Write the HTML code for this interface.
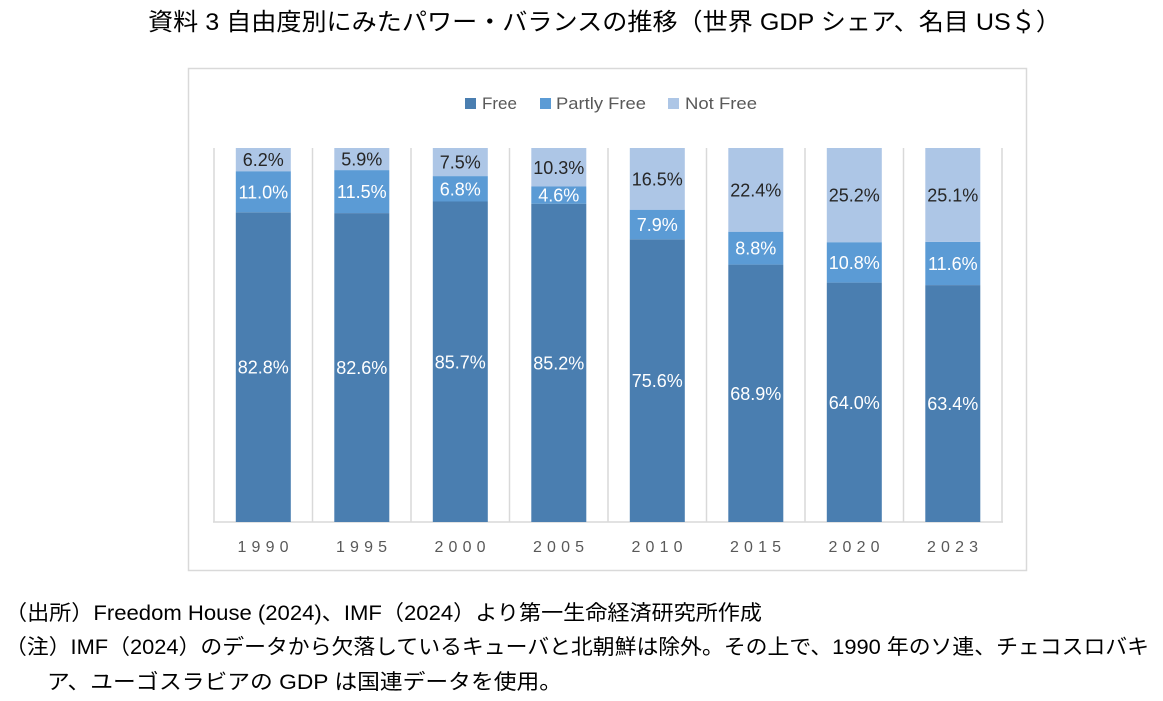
<!DOCTYPE html>
<html>
<head>
<meta charset="utf-8">
<style>
html,body{margin:0;padding:0;background:#fff;}
svg{display:block;}
.jp{font-family:"Liberation Sans","Noto Sans CJK JP",sans-serif;fill:#000;}
.lg{font-family:"Liberation Sans",sans-serif;font-size:17px;fill:#595959;}
.yr{font-family:"Liberation Sans",sans-serif;font-size:16px;fill:#595959;}
.lb{font-family:"Liberation Sans",sans-serif;font-size:18px;text-anchor:middle;}
.w{fill:#ffffff;}
.d{fill:#262626;}
</style>
</head>
<body>
<svg width="1163" height="701" viewBox="0 0 1163 701" xmlns="http://www.w3.org/2000/svg">
<rect x="0" y="0" width="1163" height="701" fill="#fff"/>
<!-- Title -->
<text class="jp" x="148" y="30" font-size="24" textLength="913" lengthAdjust="spacingAndGlyphs">資料 3  自由度別にみたパワー・バランスの推移（世界 GDP シェア、名目 US＄）</text>

<!-- Chart frame -->
<rect x="188.5" y="68.5" width="838" height="502" fill="#fff" stroke="#d9d9d9" stroke-width="1.5"/>

<!-- Legend -->
<rect x="465" y="98" width="11" height="11" fill="#4a7eb0"/>
<text class="lg" x="482" y="109" textLength="35" lengthAdjust="spacingAndGlyphs">Free</text>
<rect x="540" y="98" width="11" height="11" fill="#5b9bd5"/>
<text class="lg" x="556" y="109" textLength="90" lengthAdjust="spacingAndGlyphs">Partly Free</text>
<rect x="668" y="98" width="11" height="11" fill="#adc6e6"/>
<text class="lg" x="685" y="109" textLength="72" lengthAdjust="spacingAndGlyphs">Not Free</text>

<!-- Gridlines -->
<g stroke="#d9d9d9" stroke-width="1.5">
<line x1="214" y1="148" x2="214" y2="522"/>
<line x1="312.5" y1="148" x2="312.5" y2="522"/>
<line x1="411" y1="148" x2="411" y2="522"/>
<line x1="509.5" y1="148" x2="509.5" y2="522"/>
<line x1="608" y1="148" x2="608" y2="522"/>
<line x1="706.5" y1="148" x2="706.5" y2="522"/>
<line x1="805" y1="148" x2="805" y2="522"/>
<line x1="903.5" y1="148" x2="903.5" y2="522"/>
<line x1="1002" y1="148" x2="1002" y2="522"/>
<line x1="213" y1="522" x2="1003" y2="522"/>
</g>

<!-- Bars: plot top 148, bottom 522 (374px) -->
<!-- 1990: 82.8 / 11.0 / 6.2 -->
<g>
<rect x="235.8" y="212.3" width="55" height="309.7" fill="#4a7eb0"/>
<rect x="235.8" y="171.2" width="55" height="41.1" fill="#5b9bd5"/>
<rect x="235.8" y="148" width="55" height="23.2" fill="#adc6e6"/>
<text class="lb w" x="263.3" y="373.6">82.8%</text>
<text class="lb w" x="263.3" y="198.3">11.0%</text>
<text class="lb d" x="263.3" y="166.1">6.2%</text>
</g>
<!-- 1995: 82.6 / 11.5 / 5.9 -->
<g>
<rect x="334.3" y="213.1" width="55" height="308.9" fill="#4a7eb0"/>
<rect x="334.3" y="170.1" width="55" height="43" fill="#5b9bd5"/>
<rect x="334.3" y="148" width="55" height="22.1" fill="#adc6e6"/>
<text class="lb w" x="361.8" y="374.1">82.6%</text>
<text class="lb w" x="361.8" y="198.1">11.5%</text>
<text class="lb d" x="361.8" y="165.6">5.9%</text>
</g>
<!-- 2000: 85.7 / 6.8 / 7.5 -->
<g>
<rect x="432.8" y="201.5" width="55" height="320.5" fill="#4a7eb0"/>
<rect x="432.8" y="176.1" width="55" height="25.4" fill="#5b9bd5"/>
<rect x="432.8" y="148" width="55" height="28.1" fill="#adc6e6"/>
<text class="lb w" x="460.3" y="368.3">85.7%</text>
<text class="lb w" x="460.3" y="195.3">6.8%</text>
<text class="lb d" x="460.3" y="168.6">7.5%</text>
</g>
<!-- 2005: 85.2 / 4.6 / 10.3 (sum 100.1) -->
<g>
<rect x="531.3" y="203.7" width="55" height="318.3" fill="#4a7eb0"/>
<rect x="531.3" y="186.5" width="55" height="17.2" fill="#5b9bd5"/>
<rect x="531.3" y="148" width="55" height="38.5" fill="#adc6e6"/>
<text class="lb w" x="558.8" y="369.4">85.2%</text>
<text class="lb w" x="558.8" y="201.6">4.6%</text>
<text class="lb d" x="558.8" y="173.8">10.3%</text>
</g>
<!-- 2010: 75.6 / 7.9 / 16.5 -->
<g>
<rect x="629.8" y="239.3" width="55" height="282.7" fill="#4a7eb0"/>
<rect x="629.8" y="209.7" width="55" height="29.6" fill="#5b9bd5"/>
<rect x="629.8" y="148" width="55" height="61.7" fill="#adc6e6"/>
<text class="lb w" x="657.3" y="387.2">75.6%</text>
<text class="lb w" x="657.3" y="231">7.9%</text>
<text class="lb d" x="657.3" y="185.4">16.5%</text>
</g>
<!-- 2015: 68.9 / 8.8 / 22.4 (sum 100.1) -->
<g>
<rect x="728.3" y="264.6" width="55" height="257.4" fill="#4a7eb0"/>
<rect x="728.3" y="231.7" width="55" height="32.9" fill="#5b9bd5"/>
<rect x="728.3" y="148" width="55" height="83.7" fill="#adc6e6"/>
<text class="lb w" x="755.8" y="399.8">68.9%</text>
<text class="lb w" x="755.8" y="254.7">8.8%</text>
<text class="lb d" x="755.8" y="196.4">22.4%</text>
</g>
<!-- 2020: 64.0 / 10.8 / 25.2 -->
<g>
<rect x="826.8" y="282.6" width="55" height="239.4" fill="#4a7eb0"/>
<rect x="826.8" y="242.2" width="55" height="40.4" fill="#5b9bd5"/>
<rect x="826.8" y="148" width="55" height="94.2" fill="#adc6e6"/>
<text class="lb w" x="854.3" y="408.8">64.0%</text>
<text class="lb w" x="854.3" y="268.9">10.8%</text>
<text class="lb d" x="854.3" y="201.6">25.2%</text>
</g>
<!-- 2023: 63.4 / 11.6 / 25.1 (sum 100.1) -->
<g>
<rect x="925.3" y="285.1" width="55" height="236.9" fill="#4a7eb0"/>
<rect x="925.3" y="241.8" width="55" height="43.3" fill="#5b9bd5"/>
<rect x="925.3" y="148" width="55" height="93.8" fill="#adc6e6"/>
<text class="lb w" x="952.8" y="410.1">63.4%</text>
<text class="lb w" x="952.8" y="270">11.6%</text>
<text class="lb d" x="952.8" y="201.4">25.1%</text>
</g>

<!-- Year labels -->
<text class="yr" x="237.5" y="552" textLength="51" lengthAdjust="spacing">1990</text>
<text class="yr" x="336" y="552" textLength="51" lengthAdjust="spacing">1995</text>
<text class="yr" x="434.5" y="552" textLength="51" lengthAdjust="spacing">2000</text>
<text class="yr" x="533" y="552" textLength="51" lengthAdjust="spacing">2005</text>
<text class="yr" x="631.5" y="552" textLength="51" lengthAdjust="spacing">2010</text>
<text class="yr" x="730" y="552" textLength="51" lengthAdjust="spacing">2015</text>
<text class="yr" x="828.5" y="552" textLength="51" lengthAdjust="spacing">2020</text>
<text class="yr" x="927" y="552" textLength="51" lengthAdjust="spacing">2023</text>

<!-- Footnotes -->
<text class="jp" x="5" y="620" font-size="21" textLength="757" lengthAdjust="spacingAndGlyphs">（出所）Freedom House (2024)、IMF（2024）より第一生命経済研究所作成</text>
<text class="jp" x="5" y="654" font-size="21" textLength="1144" lengthAdjust="spacingAndGlyphs">（注）IMF（2024）のデータから欠落しているキューバと北朝鮮は除外。その上で、1990 年のソ連、チェコスロバキ</text>
<text class="jp" x="47" y="689" font-size="21" textLength="515" lengthAdjust="spacingAndGlyphs">ア、ユーゴスラビアの GDP は国連データを使用。</text>
</svg>
</body>
</html>
